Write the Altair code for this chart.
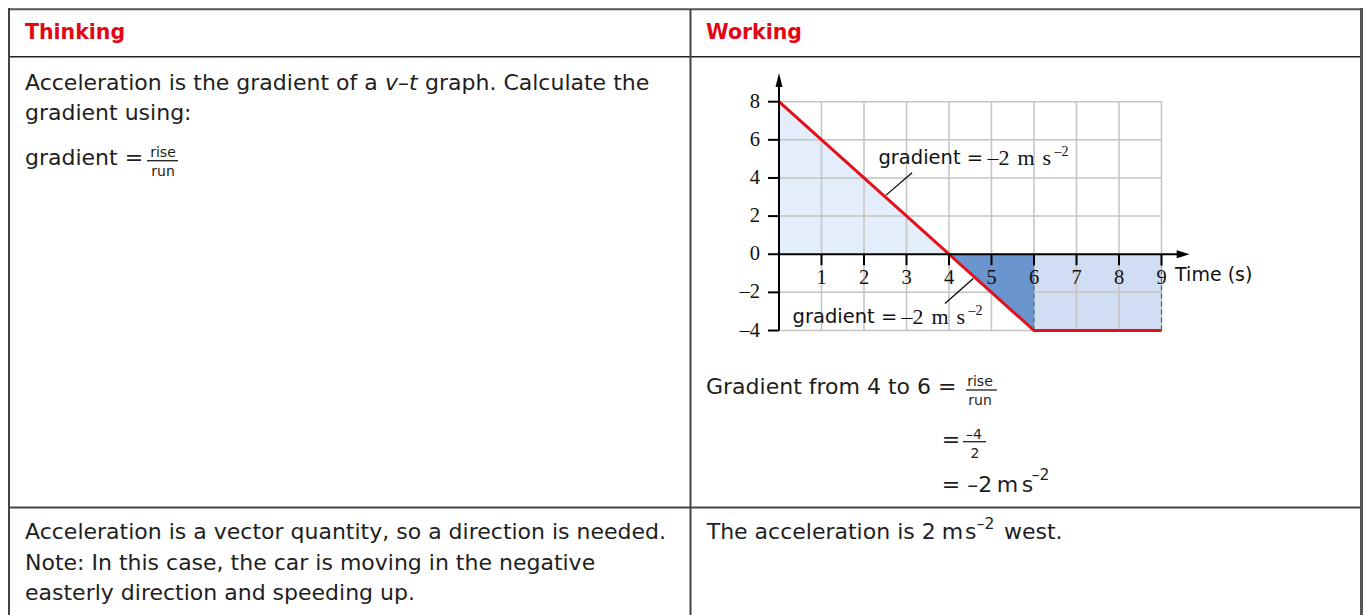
import altair as alt
import pandas as pd

# ---------------- v–t graph data ----------------
line_t = [0, 4, 6, 9]
line_v = [8, 0, -4, -4]
pos_t = [0, 4]
pos_v = [8, 0]
neg_t = [4, 6]
neg_v = [0, -4]
const_t = [6, 9]
const_v = [-4, 0]
dash_t = [6, 9]
grid_t = [1, 2, 3, 4, 5, 6, 7, 8, 9]
grid_v = [-4, -2, 2, 4, 6, 8]
ytick_v = [-4, -2, 0, 2, 4, 6, 8]
ytick_lab = ["–4", "–2", "0", "2", "4", "6", "8"]
xtick_t = [1, 2, 3, 4, 5, 6, 7, 8, 9]
xtick_lab = ["1", "2", "3", "4", "5", "6", "7", "8", "9"]
t_max, v_max = 9, 8
v_min = -4
axis_t_end = 9.5
axis_v_end = 9.2
arrow_t = 9.51
arrow_v = 9.14
x_title = "Time (s)"
x_title_t, x_title_v = 9.32, -1.1
ann_t = [2.34, 0.32]
ann_v = [5.06, -3.27]
ann_parts = ["gradient =", "–2", "m", "s", "–2"]
lead_t1 = [3.13, 3.906]
lead_v1 = [4.27, -2.585]
lead_t2 = [2.52, 4.572]
lead_v2 = [3.10, -1.274]

# ---------------- table texts ----------------
headers = ["Thinking", "Working"]
thinking_text = ["Acceleration is the gradient of a", "v–t", "graph. Calculate the",
                 "gradient using:", "gradient =", "rise", "run"]
working_text = ["Gradient from 4 to 6 =", "rise", "run", "=", "–4", "2",
                "= –2", "m", "s", "–2"]
row2_left = ["Acceleration is a vector quantity, so a direction is needed.",
             "Note: In this case, the car is moving in the negative",
             "easterly direction and speeding up."]
row2_right = ["The acceleration is 2", "m", "s", "–2", "west."]

# ---------------- layout (pixels) ----------------
W, H = 1355, 607
SANS = "DejaVu Sans"
SERIF = "Liberation Serif"
RED = "#e30613"
INK = "#1e1e1e"

# (x, y, fontsize, style, align)
header_layout = [(17, 25, 20.5, "bold", "left"), (698, 25, 20.5, "bold", "left")]
thinking_layout = [(17, 74.5, 22, "normal", "left"), (377, 74.5, 22, "italic", "left"),
                   (417, 74.5, 22, "normal", "left"), (17, 105, 22, "normal", "left"),
                   (17, 150, 22, "normal", "left"), (155, 145, 14, "normal", "center"),
                   (155, 164, 14, "normal", "center")]
working_layout = [(698, 379, 22, "normal", "left"), (972, 373.5, 14, "normal", "center"),
                  (972, 392.5, 14, "normal", "center"), (933.7, 432, 22, "normal", "left"),
                  (966, 427, 14, "normal", "center"), (967, 445.5, 14, "normal", "center"),
                  (933.7, 477, 22, "normal", "left"), (988.7, 477, 22, "normal", "left"),
                  (1013.7, 477, 22, "normal", "left"), (1023.7, 467, 15.5, "normal", "left")]
row2_left_layout = [(17, 523.7, 22, "normal", "left"), (17, 555.3, 22, "normal", "left"),
                    (17, 585.3, 22, "normal", "left")]
row2_right_layout = [(698.7, 523.7, 22, "normal", "left"), (933.7, 523.7, 22, "normal", "left"),
                     (957, 523.7, 22, "normal", "left"), (968.7, 515.5, 15.5, "normal", "left"),
                     (996, 523.7, 22, "normal", "left")]
frac_bars = [(139, 170, 152.7), (958, 989, 382), (955, 978, 433.7)]
table_lines = [  # x, x2, y, y2, color, width
    (0, W, 1.3, 1.3, "#555555", 2),
    (1, W, 48.7, 48.7, "#222222", 1.5),
    (1, W, 499.5, 499.5, "#444444", 2),
    (1, 1, 0, H, "#444444", 2),
    (682.5, 682.5, 1.3, H, "#444444", 2),
    (W - 1.5, W - 1.5, 0, H, "#555555", 3),
]

xs = alt.Scale(domain=[0, t_max], range=[771, 1153.5], nice=False, zero=False)
ys = alt.Scale(domain=[v_min, v_max], range=[322.5, 93.7], nice=False, zero=False)


def X(f):
    return alt.X(f, type="quantitative", scale=xs, axis=None)


def Y(f):
    return alt.Y(f, type="quantitative", scale=ys, axis=None)


layers = []

# fills
layers.append(alt.Chart(pd.DataFrame({"t": pos_t, "v": pos_v, "b": 0})).mark_area(
    color="#e3eefa", opacity=1).encode(x=X("t"), y=Y("v"), y2=alt.Y2("b")))
layers.append(alt.Chart(pd.DataFrame({"t0": [const_t[0]], "t1": [const_t[1]],
                                      "v0": [const_v[0]], "v1": [const_v[1]]})).mark_rect(
    color="#d0ddf2", opacity=1).encode(x=X("t0"), x2=alt.X2("t1"), y=Y("v0"), y2=alt.Y2("v1")))
# grid
layers.append(alt.Chart(pd.DataFrame({"t": grid_t, "lo": v_min, "hi": v_max})).mark_rule(
    color="#c3c3c3", strokeWidth=1.5).encode(x=X("t"), y=Y("lo"), y2=alt.Y2("hi")))
layers.append(alt.Chart(pd.DataFrame({"v": grid_v, "lo": 0, "hi": t_max})).mark_rule(
    color="#c3c3c3", strokeWidth=1.5).encode(y=Y("v"), x=X("lo"), x2=alt.X2("hi")))
# dark triangle
layers.append(alt.Chart(pd.DataFrame({"t": neg_t, "v": neg_v, "b": 0})).mark_area(
    color="#6b95cf", opacity=1).encode(x=X("t"), y=Y("v"), y2=alt.Y2("b")))
# dashed verticals
layers.append(alt.Chart(pd.DataFrame({"t": dash_t, "lo": const_v[0], "hi": const_v[1]})).mark_rule(
    color="#3d6f9a", strokeWidth=1.2, strokeDash=[5, 3]).encode(x=X("t"), y=Y("lo"), y2=alt.Y2("hi")))
# velocity line
layers.append(alt.Chart(pd.DataFrame({"t": line_t, "v": line_v, "i": range(len(line_t))})).mark_line(
    color="#e3101b", strokeWidth=3).encode(x=X("t"), y=Y("v"), order="i:Q"))
# axes
layers.append(alt.Chart(pd.DataFrame({"t": [0], "lo": [v_min], "hi": [axis_v_end]})).mark_rule(
    color="black", strokeWidth=2).encode(x=X("t"), y=Y("lo"), y2=alt.Y2("hi")))
layers.append(alt.Chart(pd.DataFrame({"v": [0], "lo": [0], "hi": [axis_t_end]})).mark_rule(
    color="black", strokeWidth=2).encode(y=Y("v"), x=X("lo"), x2=alt.X2("hi")))
layers.append(alt.Chart(pd.DataFrame({"t": [0], "v": [arrow_v]})).mark_point(
    shape="M0,-1L0.5,1L-0.5,1Z", size=196, filled=True, color="black", opacity=1).encode(
    x=X("t"), y=Y("v")))
layers.append(alt.Chart(pd.DataFrame({"t": [arrow_t], "v": [0]})).mark_point(
    shape="M1,0L-1,0.6L-1,-0.6Z", size=169, filled=True, color="black", opacity=1).encode(
    x=X("t"), y=Y("v")))
# ticks
layers.append(alt.Chart(pd.DataFrame({"t": 0, "v": ytick_v})).mark_rule(
    color="black", strokeWidth=2, x2Offset=-11).encode(x=X("t"), x2=alt.X2("t"), y=Y("v")))
layers.append(alt.Chart(pd.DataFrame({"t": xtick_t, "v": 0})).mark_rule(
    color="black", strokeWidth=2, y2Offset=11).encode(x=X("t"), y=Y("v"), y2=alt.Y2("v")))
# tick labels
layers.append(alt.Chart(pd.DataFrame({"t": 0, "v": ytick_v, "lab": ytick_lab})).mark_text(
    font=SERIF, fontSize=20.5, align="right", baseline="middle", dx=-19, color="#111111").encode(
    x=X("t"), y=Y("v"), text="lab:N"))
layers.append(alt.Chart(pd.DataFrame({"t": xtick_t, "v": 0, "lab": xtick_lab})).mark_text(
    font=SERIF, fontSize=20.5, align="center", baseline="middle", dy=24, color="#111111").encode(
    x=X("t"), y=Y("v"), text="lab:N"))
layers.append(alt.Chart(pd.DataFrame({"t": [x_title_t], "v": [x_title_v], "lab": [x_title]})).mark_text(
    font=SANS, fontSize=19, align="left", baseline="middle", color="#111111").encode(
    x=X("t"), y=Y("v"), text="lab:N"))
# gradient annotations
layers.append(alt.Chart(pd.DataFrame({"t1": lead_t1, "v1": lead_v1, "t2": lead_t2, "v2": lead_v2})).mark_rule(
    color="black", strokeWidth=1.2).encode(x=X("t1"), y=Y("v1"), x2=alt.X2("t2"), y2=alt.Y2("v2")))
part_style = [(0, 0, SANS, 19.5), (109, 0, SERIF, 22), (139, 0, SERIF, 22),
              (164, 0, SERIF, 22), (176, -6, SERIF, 14)]
for part, (dx, dy, fnt, fs) in zip(ann_parts, part_style):
    layers.append(alt.Chart(pd.DataFrame({"t": ann_t, "v": ann_v, "lab": part})).mark_text(
        font=fnt, fontSize=fs, align="left", baseline="middle", dx=dx, dy=dy, color="#111111").encode(
        x=X("t"), y=Y("v"), text="lab:N"))

# ---------------- table ----------------
tl = pd.DataFrame(table_lines, columns=["x", "x2", "y", "y2", "c", "w"])
for _, r in tl.iterrows():
    layers.append(alt.Chart(pd.DataFrame([r])).mark_rule(color=r["c"], strokeWidth=float(r["w"])).encode(
        x=alt.X("x:Q", scale=None), x2="x2:Q", y=alt.Y("y:Q", scale=None), y2="y2:Q"))
fb = pd.DataFrame(frac_bars, columns=["x", "x2", "y"])
layers.append(alt.Chart(fb).mark_rule(color=INK, strokeWidth=1.3).encode(
    x=alt.X("x:Q", scale=None), x2="x2:Q", y=alt.Y("y:Q", scale=None)))

runs = []
for texts, lay, col in [(headers, header_layout, RED), (thinking_text, thinking_layout, INK),
                        (working_text, working_layout, INK), (row2_left, row2_left_layout, INK),
                        (row2_right, row2_right_layout, INK)]:
    for txt, (px, py, fs, st, al) in zip(texts, lay):
        runs.append({"txt": txt, "px": px, "py": py, "fs": fs, "st": st, "al": al, "col": col})
runs = pd.DataFrame(runs)
for (st, al, col), grp in runs.groupby(["st", "al", "col"]):
    kw = {}
    if st == "bold":
        kw["fontWeight"] = "bold"
    if st == "italic":
        kw["fontStyle"] = "italic"
    layers.append(alt.Chart(grp.reset_index(drop=True)).mark_text(
        font=SANS, align=al, baseline="middle", color=col, **kw).encode(
        x=alt.X("px:Q", scale=None), y=alt.Y("py:Q", scale=None), text="txt:N",
        size=alt.Size("fs:Q", scale=None, legend=None)))

chart = alt.layer(*layers).properties(
    width=W, height=H, padding=0, autosize="none"
).configure_view(strokeWidth=0)

chart.save("out.html", embed_options={"renderer": "svg", "actions": False})
